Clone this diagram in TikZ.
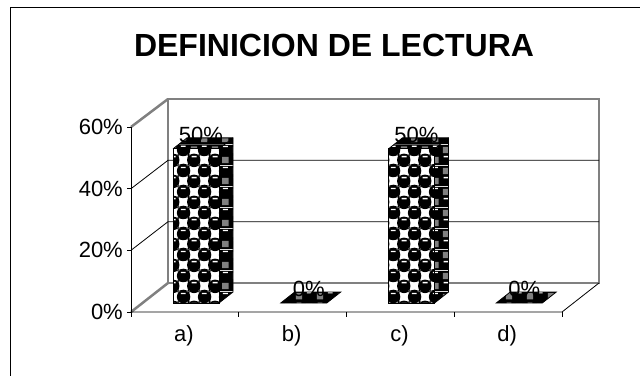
\documentclass[tikz,border=0pt]{standalone}
\usepackage{fontspec}
\setmainfont{Liberation Sans}
\usetikzlibrary{patterns.meta}

\definecolor{wallgray}{RGB}{128,128,128}

% checker with balls, front of the columns
\tikzdeclarepattern{
  name=balls, type=colored,
  bounding box={(0pt,0pt) and (21pt,21pt)},
  tile size={(21pt,21pt)},
  code={
    \fill[white] (0pt,0pt) rectangle (21pt,21pt);
    \draw[black,line width=0.8pt] (0pt,0pt) rectangle (21pt,21pt);
    \draw[black,line width=0.8pt] (10.5pt,0pt) -- (10.5pt,21pt) (0pt,10.5pt) -- (21pt,10.5pt);
    \fill[black] (5.25pt,5.25pt) circle (6.6pt);
    \fill[black] (15.75pt,15.75pt) circle (6.6pt);
    \fill[black] (5.25pt,26.25pt) circle (6.6pt);
    \fill[black] (26.25pt,5.25pt) circle (6.6pt);
    \fill[black] (-5.25pt,15.75pt) circle (6.6pt);
    \fill[black] (15.75pt,-5.25pt) circle (6.6pt);
    \fill[white] (2.75pt,8pt) rectangle (7.75pt,9.4pt);
    \fill[white] (13.25pt,18.5pt) rectangle (18.25pt,19.9pt);
  }
}
% same, darker, for sides and tops
\tikzdeclarepattern{
  name=ballsdark, type=colored,
  bounding box={(0pt,0pt) and (21pt,21pt)},
  tile size={(21pt,21pt)},
  code={
    \fill[black] (0pt,0pt) rectangle (21pt,21pt);
    \fill[wallgray] (2pt,12.5pt) rectangle (8.5pt,19pt);
    \fill[wallgray] (12.5pt,2pt) rectangle (19pt,8.5pt);
    \fill[white] (2.75pt,8pt) rectangle (7.75pt,9.4pt);
    \fill[white] (13.25pt,18.5pt) rectangle (18.25pt,19.9pt);
  }
}

\begin{document}
\begin{tikzpicture}[x=1pt,y=-1pt,
  wall/.style={draw=wallgray,line width=2.5pt},
  gridline/.style={draw=black,line width=0.8pt},
  face/.style={draw=black,line width=0.8pt},
  lbl/.style={font=\fontsize{22}{26}\selectfont,inner sep=0pt}]

\useasboundingbox (0,0) rectangle (640,375);
\clip (0,0) rectangle (640,375);

\def\backwall{(168,99) rectangle (599,283)}

% outer frame
\draw[line width=1pt] (10,7) rectangle (660,400);

\node[font=\bfseries\fontsize{32}{36}\selectfont] (title) at (334,45) {DEFINICION DE LECTURA};

% walls and floor
\fill[white] \backwall;
\draw[wall] \backwall;
\draw[wall] (131,127) -- (168,99);
\draw[wall] (131,312) -- (168,283);
\draw[gridline] (131,250.3) -- (168,221.7) -- (599,221.7);
\draw[gridline] (131,188.7) -- (168,160.3) -- (599,160.3);
\draw[gridline] (131,127) -- (131,317);
\draw[gridline] (131,312) -- (562,312) -- (599,283);

\foreach \v/\y in {0/312,20/250.3,40/188.7,60/127}{
  \draw[gridline] (127,\y) -- (131,\y);
  \node[lbl,anchor=east] (y\v) at (123,\y) {\v\%};
}
\foreach \i in {1,...,4}
  \draw[gridline] (131+107.75*\i,312) -- ++(0,5);

% columns
\foreach \i/\v/\c in {0/50/a,1/0/b,2/50/c,3/0/d}{
  \pgfmathsetmacro\xa{173+107.75*\i}
  \pgfmathsetmacro\xb{\xa+46}
  \pgfmathsetmacro\yt{303-3.083*\v}
  \ifnum\v>0
    \fill[pattern=balls] (\xa,303) rectangle (\xb,\yt);
    \fill[pattern=ballsdark] (\xb,303) -- (\xb+14,292) -- (\xb+14,\yt-11) -- (\xb,\yt) -- cycle;
    \fill[pattern=ballsdark] (\xa,\yt) -- (\xb,\yt) -- (\xb+14,\yt-11) -- (\xa+14,\yt-11) -- cycle;
    \draw[face] (\xa,303) rectangle (\xb,\yt);
    \draw[face] (\xb,303) -- (\xb+14,292) -- (\xb+14,\yt-11) -- (\xa+14,\yt-11) -- (\xa,\yt);
    \draw[face] (\xb,\yt) -- (\xb+14,\yt-11);
  \else
    \fill[pattern=ballsdark] (\xa,303) -- (\xb,303) -- (\xb+14,292) -- (\xa+14,292) -- cycle;
    \draw[face] (\xa,303) -- (\xb,303) -- (\xb+14,292) -- (\xa+14,292) -- cycle;
  \fi
  \node[lbl] (v\c) at (\xa+28,\yt-14) {\v\%};
  \node[lbl] (cat\c) at (\xa+11,336) {\c)};
}
\end{tikzpicture}
\end{document}
